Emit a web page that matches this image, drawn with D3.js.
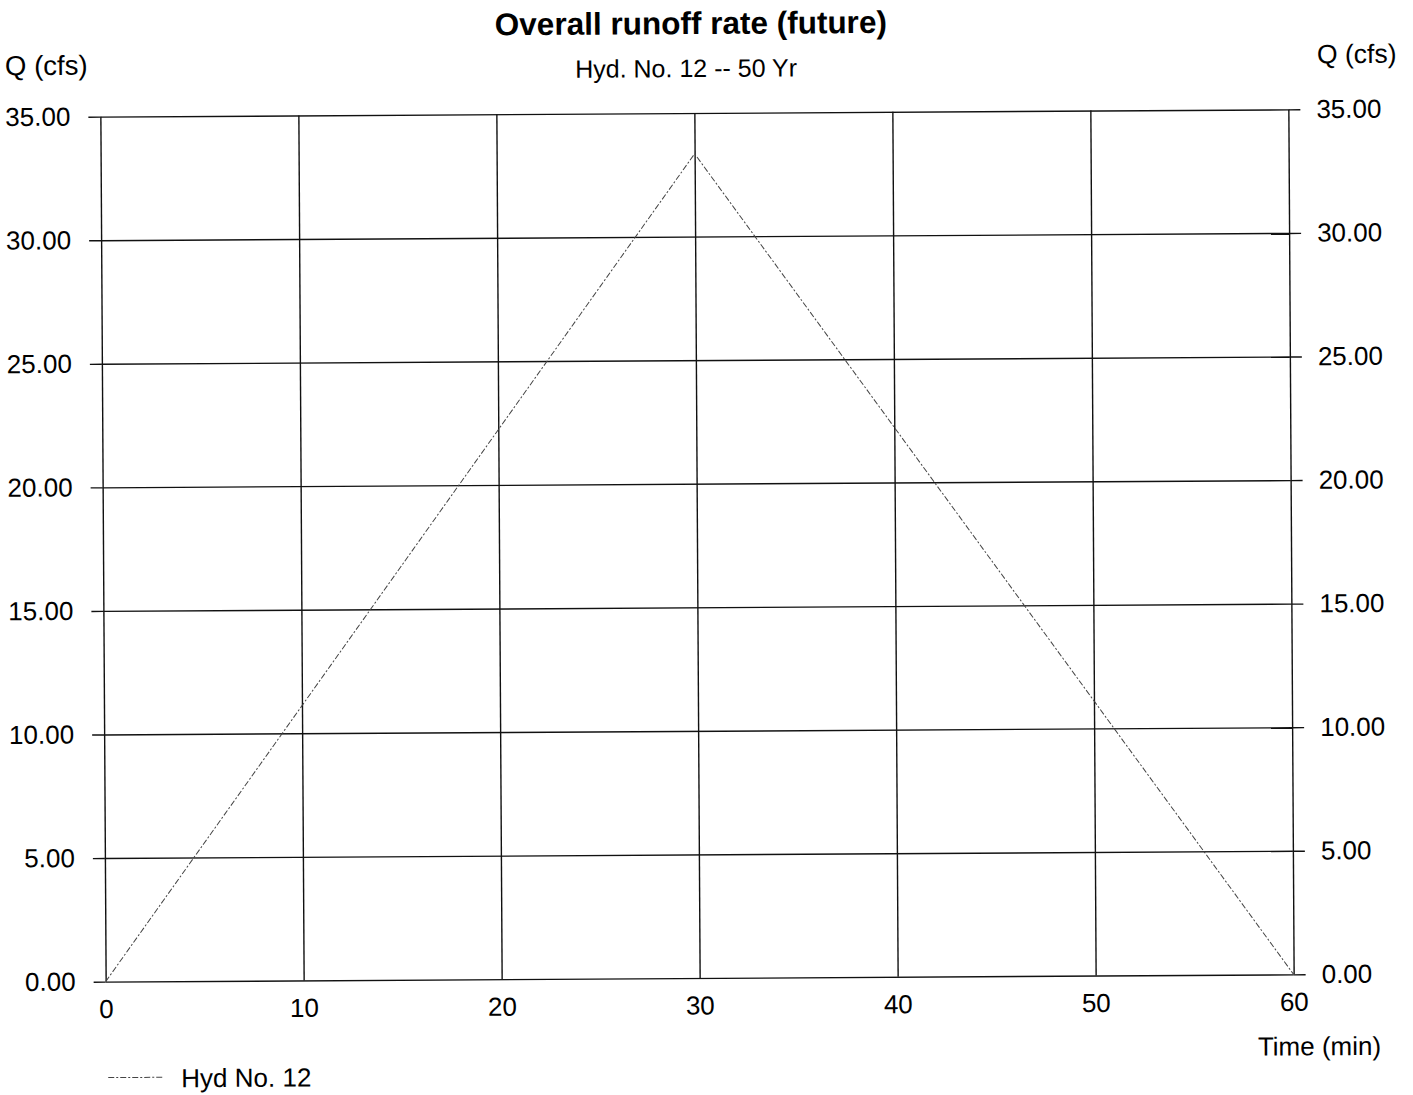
<!DOCTYPE html>
<html>
<head>
<meta charset="utf-8">
<script src="https://cdn.jsdelivr.net/npm/d3@7"></script>
<style>
  body { margin: 0; background: #fff; }
  svg { font-family: "Liberation Sans", Arial, sans-serif; }
</style>
</head>
<body>
<figure id="runoff" style="margin:0"></figure>
<script>
// hydrograph points (time in min, flow in cfs)
const timeMin = [0, 30, 60];
const flowCfs = [0, 33.35, 0];
const yTicks = [0, 5, 10, 15, 20, 25, 30, 35];
const xTicks = [0, 10, 20, 30, 40, 50, 60];
const seriesName = "Hyd No. 12";

const W = 1413, H = 1095;
const marginLeft = 103, marginTop = 113;
const width = 1188, height = 865;

const svg = d3.select("figure#runoff")
  .append("svg")
  .attr("width", W)
  .attr("height", H);

// scanned page is slightly tilted
const page = svg.append("g")
  .attr("transform", "rotate(-0.35," + (marginLeft + width / 2) + "," + (marginTop + height / 2) + ")");

const x = d3.scaleLinear().domain([0, 60]).range([0, width]);
const y = d3.scaleLinear().domain([0, 35]).range([height, 0]);

const g = page.append("g")
  .attr("transform", "translate(" + marginLeft + "," + marginTop + ")");

// grid
g.append("g")
  .attr("class", "grid")
  .call(d3.axisLeft(y).tickValues(yTicks).tickSize(-width).tickFormat(""))
  .call(s => s.select(".domain").remove());
g.append("g")
  .attr("class", "grid")
  .attr("transform", "translate(0," + height + ")")
  .call(d3.axisBottom(x).tickValues(xTicks).tickSize(-height).tickFormat(""))
  .call(s => s.select(".domain").remove());
g.selectAll(".grid line").attr("stroke", "#111").attr("stroke-width", 1.4);

// left and right value axes
const yLeft = g.append("g")
  .call(d3.axisLeft(y).tickValues(yTicks).tickSize(12).tickPadding(18).tickFormat(d3.format(".2f")));
const yRight = g.append("g")
  .attr("transform", "translate(" + width + ",0)")
  .call(d3.axisRight(y).tickValues(yTicks).tickSize(12).tickPadding(16).tickFormat(d3.format(".2f")));
const xAxis = g.append("g")
  .attr("transform", "translate(0," + height + ")")
  .call(d3.axisBottom(x).tickValues(xTicks).tickSize(0).tickPadding(18).tickFormat(d3.format("d")));

[yLeft, yRight, xAxis].forEach(a => {
  a.select(".domain").remove();
  a.selectAll("line").attr("stroke", "#111").attr("stroke-width", 1.4);
  a.selectAll("text").attr("font-size", 26).attr("fill", "#000")
    .attr("font-family", "'Liberation Sans', Arial, sans-serif");
});

// hydrograph line
const line = d3.line()
  .x((d, i) => x(timeMin[i]))
  .y(d => y(d));

g.append("path")
  .datum(flowCfs)
  .attr("d", line)
  .attr("fill", "none")
  .attr("stroke", "#444")
  .attr("stroke-width", 1)
  .attr("stroke-dasharray", "6,2,2,2");

// titles and labels
page.append("text")
  .attr("x", 694).attr("y", 34)
  .attr("text-anchor", "middle")
  .attr("font-size", 31.5).attr("font-weight", "bold")
  .text("Overall runoff rate (future)");
page.append("text")
  .attr("x", 689).attr("y", 77)
  .attr("text-anchor", "middle")
  .attr("font-size", 25)
  .text("Hyd. No. 12 -- 50 Yr");
page.append("text")
  .attr("x", 8).attr("y", 71)
  .attr("font-size", 27.5)
  .text("Q (cfs)");
page.append("text")
  .attr("x", 1320).attr("y", 67)
  .attr("font-size", 26.5)
  .text("Q (cfs)");
page.append("text")
  .attr("x", 1378).attr("y", 1059)
  .attr("text-anchor", "end")
  .attr("font-size", 26)
  .text("Time (min)");

// legend
const legend = page.append("g").attr("transform", "translate(105,1074)");
legend.append("line")
  .attr("x1", 0).attr("x2", 55)
  .attr("stroke", "#444").attr("stroke-width", 1)
  .attr("stroke-dasharray", "6,2,2,2");
legend.append("text")
  .attr("x", 73).attr("y", 10)
  .attr("font-size", 26)
  .text(seriesName);
</script>
</body>
</html>
